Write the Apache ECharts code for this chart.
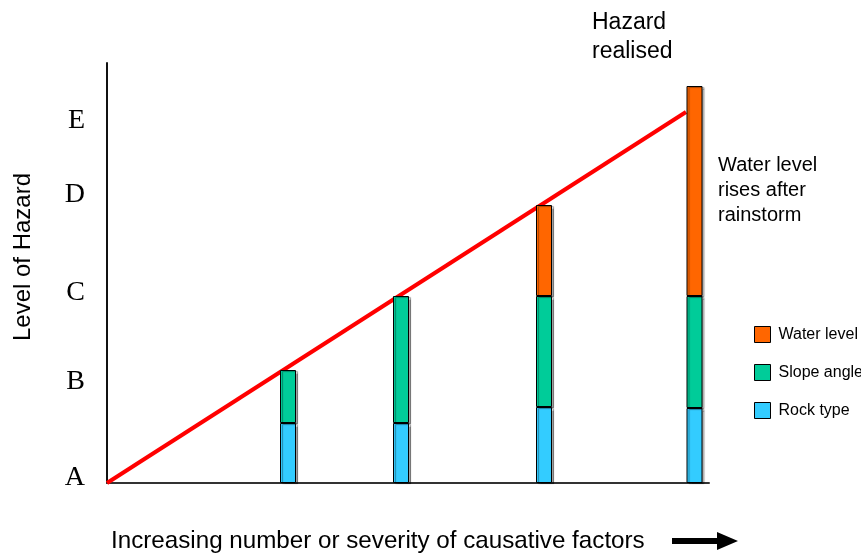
<!DOCTYPE html>
<html>
<head>
<meta charset="utf-8">
<script src="https://cdn.jsdelivr.net/npm/echarts@6/dist/echarts.min.js"></script>
<style>
html,body{margin:0;padding:0;background:#fff;}
#chart{width:861px;height:556px;}
</style>
</head>
<body>
<div id="chart"></div>
<script>
// Horizontal positions of the four bars (abstract units along the factor axis)
const barPositions = [181, 294, 437, 587.5];
// Stacked components (hazard units)
const rockType   = [60, 60, 76, 75];
const slopeAngle = [53, 127, 111, 112];
const waterLevel = [null, null, 91, 210];
// Trend line of hazard (start and end points)
const trendX = [0, 579];
const trendY = [0, 371];
// Y-axis tick labels and their levels
const levelLabels = ['A', 'B', 'C', 'D', 'E'];
const levelValues = [5, 101, 190, 288, 362];

const seriesNames = ['Water level', 'Slope angle', 'Rock type'];
const colors = {'Rock type': '#33CCFF', 'Slope angle': '#00CC99', 'Water level': '#FF6600'};

// value first, position second (so the value dimension is the stacked one)
function valPos(vals) { return vals.map((v, i) => [v, barPositions[i]]); }

const barStyle = c => ({
  color: c, borderColor: '#000', borderWidth: 1,
  shadowColor: 'rgba(0,0,0,0.35)', shadowOffsetX: 2, shadowOffsetY: 1, shadowBlur: 1
});

const chart = echarts.init(document.getElementById('chart'));
chart.setOption({
  animation: false,
  backgroundColor: '#fff',
  grid: {left: 107, right: 152, top: 63, bottom: 73},
  xAxis: {
    type: 'value', min: 0, max: 602,
    axisLine: {show: true, lineStyle: {color: '#333', width: 2}},
    axisTick: {show: false}, axisLabel: {show: false}, splitLine: {show: false}
  },
  yAxis: {
    type: 'value', min: 0, max: 420,
    axisLine: {show: true, lineStyle: {color: '#111', width: 2}},
    axisTick: {show: false}, splitLine: {show: false},
    axisLabel: {
      customValues: levelValues,
      formatter: v => { const i = levelValues.indexOf(v); return i >= 0 ? levelLabels[i] : ''; },
      fontFamily: 'Liberation Serif, Times New Roman, serif', fontSize: 28, color: '#000', margin: 22
    }
  },
  legend: {
    orient: 'vertical', left: 754, top: 326, itemGap: 21, padding: 0,
    itemWidth: 16, itemHeight: 16, icon: 'rect',
    data: seriesNames,
    itemStyle: {borderColor: '#000', borderWidth: 1},
    textStyle: {fontFamily: 'Liberation Sans, Arial, sans-serif', fontSize: 16, color: '#000', padding: [0, 0, 0, 3]}
  },
  series: [
    {name: 'trend', type: 'line', data: trendX.map((x, i) => [x, trendY[i]]), symbol: 'none', z: 1,
     lineStyle: {color: '#FF0000', width: 4}, silent: true},
    {name: 'Rock type', type: 'bar', stack: 'h', barWidth: 16, z: 3, encode: {x: 1, y: 0},
     data: valPos(rockType), itemStyle: barStyle(colors['Rock type'])},
    {name: 'Slope angle', type: 'bar', stack: 'h', barWidth: 16, z: 3, encode: {x: 1, y: 0},
     data: valPos(slopeAngle), itemStyle: barStyle(colors['Slope angle'])},
    {name: 'Water level', type: 'bar', stack: 'h', barWidth: 16, z: 3, encode: {x: 1, y: 0},
     data: valPos(waterLevel), itemStyle: barStyle(colors['Water level'])}
  ],
  graphic: [
    {type: 'text', left: 592, top: 8, style: {text: 'Hazard\nrealised', font: '23px Liberation Sans, Arial, sans-serif', fill: '#000', lineHeight: 29}},
    {type: 'text', left: 718, top: 153, style: {text: 'Water level\nrises after\nrainstorm', font: '20px Liberation Sans, Arial, sans-serif', fill: '#000', lineHeight: 25}},
    {type: 'text', x: 23, y: 257, rotation: Math.PI / 2, style: {text: 'Level of Hazard', font: '24px Liberation Sans, Arial, sans-serif', fill: '#000', align: 'center', verticalAlign: 'middle'}},
    {type: 'text', x: 111, y: 541, style: {text: 'Increasing number or severity of causative factors', font: '24.2px Liberation Sans, Arial, sans-serif', fill: '#000', verticalAlign: 'middle'}},
    {type: 'polygon', shape: {points: [[672,538],[717,538],[717,532],[738,541],[717,550],[717,544],[672,544]]}, style: {fill: '#000'}}
  ]
});
</script>
</body>
</html>
